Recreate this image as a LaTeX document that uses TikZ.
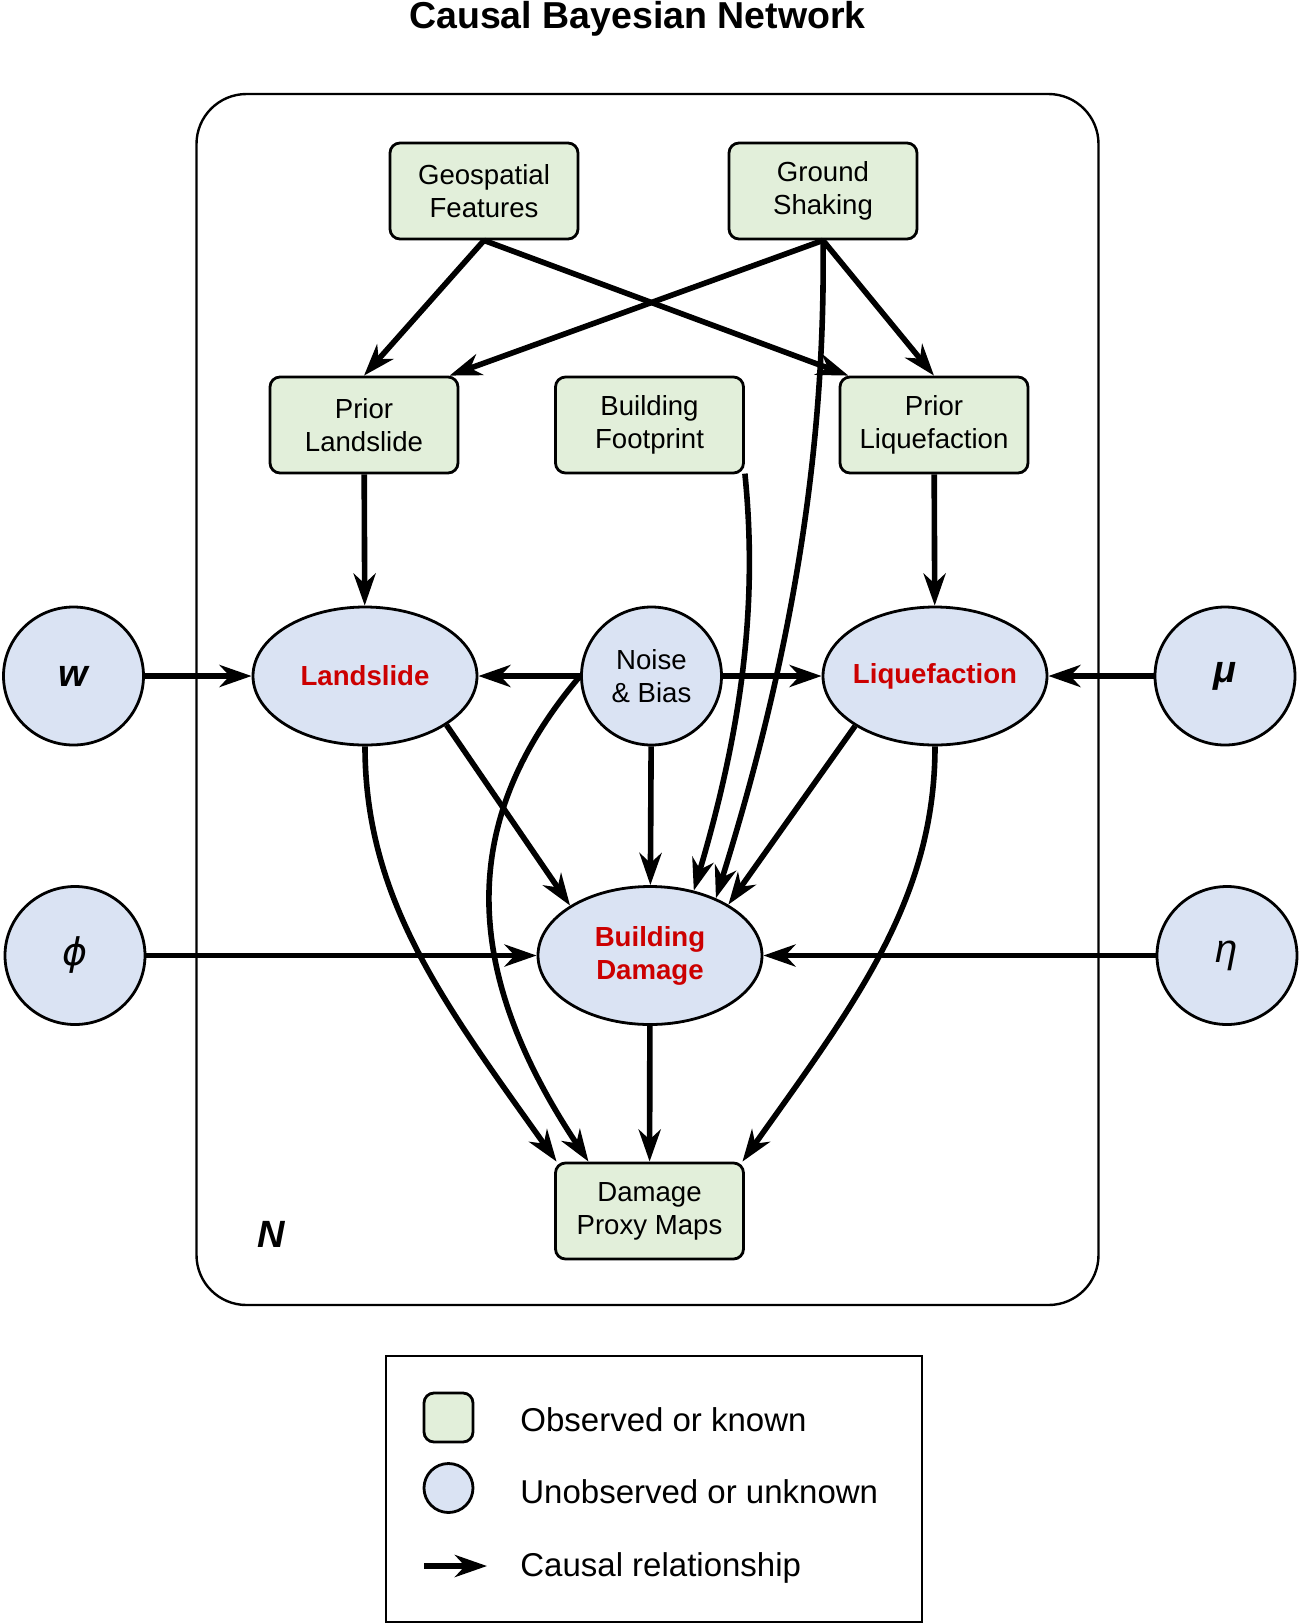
\documentclass[tikz,border=0pt]{standalone}
\usepackage{fontspec}
\setmainfont{Liberation Sans}
\newfontfamily\greekfont{DejaVu Sans}
\usetikzlibrary{arrows.meta,shapes.geometric}
\definecolor{obsgreen}{HTML}{E2EFDA}
\definecolor{latblue}{HTML}{DAE3F3}
\definecolor{varred}{HTML}{CC0000}
\begin{document}
\begin{tikzpicture}[
        x=0.5pt, y=-0.5pt, % one unit = one pixel of the sketch
        every node/.style={font=\fontsize{13.8pt}{16.5pt}\selectfont, align=center},
        observed/.style={draw, line width=1.4pt, fill=obsgreen, rounded corners=5pt,
            minimum width=94pt, minimum height=48pt, inner sep=0pt},
        latent/.style={ellipse, draw, line width=1.4pt, fill=latblue,
            minimum width=112pt, minimum height=69pt, inner sep=0pt, inner xsep=-4pt},
        param/.style={latent, minimum width=70pt, font=\fontsize{19pt}{22pt}\selectfont\bfseries\itshape},
        target/.style={text=varred, font=\fontsize{13.8pt}{16.5pt}\selectfont\bfseries},
        causal/.style={-{Stealth[length=16pt,width=11pt,inset=5pt]}, line width=2.8pt},
        keytext/.style={anchor=base west, inner sep=0pt, font=\fontsize{16.5pt}{19pt}\selectfont}
    ]
    \useasboundingbox (0,0) rectangle (1300,1624);
    \node[anchor=base, font=\fontsize{18.75pt}{22pt}\selectfont\bfseries] (title) at (637.5,28) {Causal Bayesian Network};
    % plate
    \draw[line width=1.2pt, rounded corners=25pt] (196.5,94) rectangle (1098.5,1305);
    \node[anchor=base, font=\fontsize{19pt}{22pt}\selectfont\bfseries\itshape] (plateN) at (271.5,1247.6) {N};

    \node[observed] (geo) at (484,191) {Geospatial\\Features};
    \node[observed] (shake) at (823,191) {Ground\\Shaking};
    \node[observed] (priorls) at (364,425) {Prior\\Landslide};
    \node[observed] (foot) at (649.5,425) {Building\\Footprint};
    \node[observed] (priorlq) at (934,425) {Prior\\Liquefaction};
    \node[latent, target] (lands) at (365,676) {Landslide};
    \node[latent, minimum width=70pt] (noise) at (651.5,676) {Noise\\\& Bias};
    \node[latent, target] (liq) at (935,676) {Liquefaction};
    \node[param] (w) at (73.5,676) {w};
    \node[param] (mu) at (1225,676) {μ};
    \node[latent, target] (bd) at (650,955.5) {Building\\Damage};
    \node[param, font=\fontsize{19pt}{22pt}\selectfont\greekfont\itshape] (phi) at (75,955.5) {ϕ};
    \node[param, font=\fontsize{20pt}{22pt}\selectfont\itshape] (eta) at (1227,955.5) {η};
    \node[observed] (dpm) at (649.5,1211) {Damage\\Proxy Maps};

    \draw[causal] (geo.south) -- (priorls.north);
    \draw[causal] (geo.south) -- (priorlq.150);
    \draw[causal] (shake.south) -- (priorls.30);
    \draw[causal] (shake.south) -- (priorlq.north);
    \draw[causal] (shake.south) .. controls +(3,220) and +(72,-230) .. (bd.41);
    \draw[causal] (foot.-27) .. controls +(12,120) and +(52,-175) .. (bd.56);
    \draw[causal] (priorls) -- (lands);
    \draw[causal] (priorlq) -- (liq);
    \draw[causal] (w) -- (lands);
    \draw[causal] (noise) -- (lands);
    \draw[causal] (noise) -- (liq);
    \draw[causal] (mu) -- (liq);
    \draw[causal] (noise) -- (bd);
    \draw[causal] (lands.-31) -- (bd.148);
    \draw[causal] (liq.-148) -- (bd.33);
    \draw[causal] (phi) -- (bd);
    \draw[causal] (eta) -- (bd);
    \draw[causal] (lands.south) .. controls +(0,155) and +(-110,-155) .. (dpm.152);
    \draw[causal] (noise.west) .. controls +(-115.5,136.5) and +(-135,-202.6) .. (dpm.141.5);
    \draw[causal] (bd) -- (dpm);
    \draw[causal] (liq.south) .. controls +(0,155) and +(110,-155) .. (dpm.28);

    % legend
    \draw[line width=1.4pt] (386,1356) rectangle (922,1622);
    \node[observed, minimum width=24.5pt, minimum height=24.5pt] (keyobs) at (448.5,1417.5) {};
    \node[latent, minimum width=24.5pt, minimum height=24.5pt] (keylat) at (448.5,1488) {};
    \coordinate (keyfrom) at (424,1566);
    \coordinate (keyto) at (487,1566);
    \draw[causal] (keyfrom) -- (keyto);
    \node[keytext] (keyobstext) at (520,1431.7) {Observed or known};
    \node[keytext] (keylattext) at (520,1503.8) {Unobserved or unknown};
    \node[keytext] (keycausal) at (520,1576) {Causal relationship};
\end{tikzpicture}
\end{document}
